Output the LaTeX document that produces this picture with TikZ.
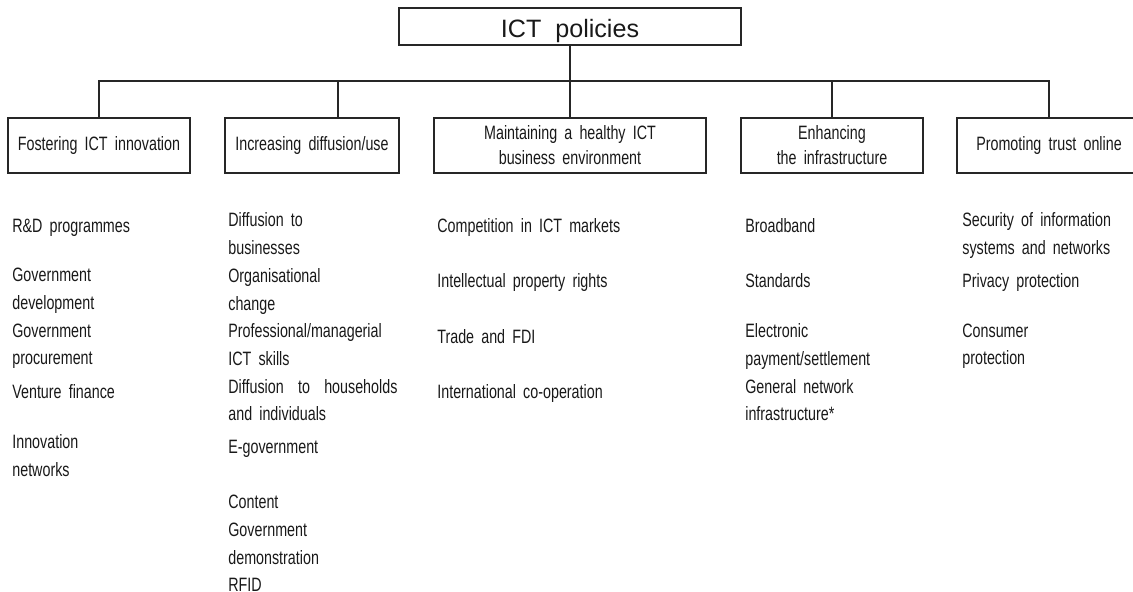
\documentclass[tikz,border=0pt]{standalone}
\usepackage{fontspec}
\setmainfont{Liberation Sans}[FakeStretch=0.74, WordSpace=1.8]
\newfontfamily\headfont{Liberation Sans}[WordSpace=2]
\usepackage{tikz}
\usetikzlibrary{positioning}

\tikzset{
  head/.style={draw=black!85, line width=0.6pt, minimum width=6.84cm, minimum height=0.74cm,
    inner sep=0pt, text height=10pt, text depth=0pt, font=\headfont\fontsize{14.3}{16}\selectfont},
  policy/.style={draw=black!85, line width=0.6pt, minimum height=1.1cm, inner sep=0pt,
    align=center, font=\fontsize{11}{14.2}\selectfont},
  item/.style={anchor=north west, inner sep=0pt, align=left,
    font=\fontsize{11}{15.76}\selectfont, execute at begin node=\strut},
  link/.style={draw=black!85, line width=0.6pt}
}

\begin{document}
\begin{tikzpicture}[text=black!90]
  \useasboundingbox (0,0) rectangle (22.66,-11.84);

  % top of the tree
  \node[head] (top) at (11.40,-0.53) {};
  \node[inner sep=0pt, text height=10pt, text depth=0pt, font=\headfont\fontsize{14.3}{16}\selectfont]
    (toplabel) at (11.40,-0.58) {ICT policies};
  \coordinate (bus) at (0,-1.62);

  % the five policy areas
  \node[policy, minimum width=3.64cm] (foster) at (1.98,-2.91) {Fostering ICT innovation};
  \node[policy, minimum width=3.48cm] (diffuse) at (6.24,-2.91) {Increasing diffusion/use};
  \node[policy, minimum width=5.44cm] (climate) at (11.40,-2.91) {Maintaining a healthy ICT\\business environment};
  \node[policy, minimum width=3.64cm] (infra) at (16.64,-2.91) {Enhancing\\the infrastructure};
  \node[policy, minimum width=3.68cm] (trust) at (20.98,-2.91) {Promoting trust online};

  % connectors
  \draw[link] (top.south) -- (top.south |- bus);
  \draw[link] (foster.north) -- (foster.north |- bus) -- (trust.north |- bus) -- (trust.north);
  \draw[link] ([xshift=0.52cm]diffuse.north) -- ([xshift=0.52cm]diffuse.north |- bus);
  \draw[link] (climate.north) -- (climate.north |- bus);
  \draw[link] (infra.north) -- (infra.north |- bus);

  % fostering innovation
  \node[item] (rd) at (0.24,-4.252) {R\&D programmes};
  \node[item] (govdev) at (0.24,-5.360) {Government\\development};
  \node[item] (govproc) at (0.24,-6.468) {Government\\procurement};
  \node[item] (venture) at (0.24,-7.576) {Venture finance};
  \node[item] (innonet) at (0.24,-8.684) {Innovation\\networks};

  % diffusion and use
  \node[item] (diffbiz) at (4.56,-4.252) {Diffusion to\\businesses};
  \node[item] (orgchange) at (4.56,-5.360) {Organisational\\change};
  \node[item] (skills) at (4.56,-6.468) {Professional/managerial\\ICT skills};
  \node[item] (diffhome) at (4.56,-7.576) {Diffusion \ to \ households\\and individuals};
  \node[item] (egov) at (4.56,-8.684) {E-government};
  \node[item] (content) at (4.56,-9.772) {Content};
  \node[item] (govdemo) at (4.56,-10.456) {Government\\demonstration};
  \node[item] (rfid) at (4.56,-11.44) {RFID};

  % business environment
  \node[item] (compet) at (8.74,-4.252) {Competition in ICT markets};
  \node[item] (iprights) at (8.74,-5.360) {Intellectual property rights};
  \node[item] (trade) at (8.74,-6.468) {Trade and FDI};
  \node[item] (coop) at (8.74,-7.576) {International co-operation};

  % infrastructure
  \node[item] (broadband) at (14.90,-4.252) {Broadband};
  \node[item] (standards) at (14.90,-5.360) {Standards};
  \node[item] (payment) at (14.90,-6.468) {Electronic\\payment/settlement};
  \node[item] (network) at (14.90,-7.576) {General network\\infrastructure*};

  % trust online
  \node[item] (security) at (19.24,-4.252) {Security of information\\systems and networks};
  \node[item] (privacy) at (19.24,-5.360) {Privacy protection};
  \node[item] (consumer) at (19.24,-6.468) {Consumer\\protection};
\end{tikzpicture}
\end{document}
